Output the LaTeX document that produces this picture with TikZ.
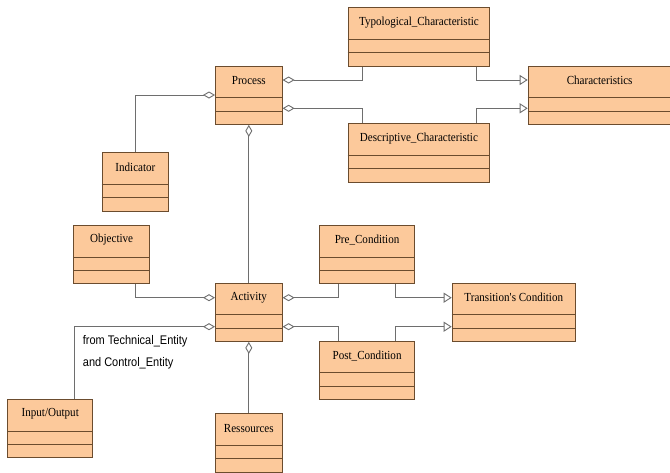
\documentclass[tikz,border=0pt]{standalone}
\usepackage{fontspec}
\setmainfont[FakeStretch=0.9]{Liberation Serif}
\newfontfamily\notefont[FakeStretch=0.88]{Liberation Sans}
\usetikzlibrary{calc,arrows.meta}
\definecolor{classfill}{HTML}{FCC99B}
\definecolor{classedge}{HTML}{6B4C2E}
\definecolor{linkgray}{HTML}{6E6E6E}
\tikzset{
	classbox/.style={draw=classedge, fill=classfill, line width=0.9pt, anchor=north west, minimum height=58.3pt, inner sep=0pt},
	classtitle/.style={font=\fontsize{12.3}{14}\selectfont, inner sep=0pt},
	aggr/.style={draw=linkgray, line width=0.9pt, {Diamond[open, length=12pt, width=7pt]}-},
	gener/.style={draw=linkgray, line width=0.9pt, -{Triangle[open, length=8pt, width=10pt]}}
}
% class box: name, top left corner, width, title
\newcommand{\umlclass}[4]{
	\node[classbox, minimum width=#3] (#1) at (#2) {};
	\node[classtitle] at ($(#1.north)+(0,15)$) {#4};
	\draw[classedge, line width=0.9pt] ($(#1.north west)+(0,32)$) -- ($(#1.north east)+(0,32)$);
	\draw[classedge, line width=0.9pt] ($(#1.north west)+(0,45.3)$) -- ($(#1.north east)+(0,45.3)$);
}

\begin{document}
\begin{tikzpicture}[x=1pt, y=-1pt]
		%%%%% START %%%%%
		\clip (0, 0) rectangle (670, 472);
		\fill[white] (0, 0) rectangle (670, 472);
		
		\umlclass{typ}{347.7, 7.3}{141.6pt}{Typological\_Characteristic}
		\umlclass{proc}{215, 65.7}{66.7pt}{Process}
		\umlclass{char}{527.7, 65.7}{143pt}{Characteristics}
		\umlclass{desc}{347.7, 123.3}{141.6pt}{Descriptive\_Characteristic}
		\umlclass{ind}{101.7, 152.3}{66.6pt}{Indicator}
		\umlclass{obj}{73.3, 225}{75.7pt}{Objective}
		\umlclass{pre}{319.3, 225}{94.7pt}{Pre\_Condition}
		\umlclass{act}{215, 282.7}{66.7pt}{Activity}
		\umlclass{trans}{451.7, 282.7}{123.3pt}{Transition\textquotesingle s Condition}
		\umlclass{post}{319.3, 340.7}{94.7pt}{Post\_Condition}
		\umlclass{io}{7.3, 399}{85pt}{Input/Output}
		\umlclass{res}{215, 413.3}{66.7pt}{Ressources}
		
		% process links
		\draw[aggr] ([yshift=-14.3pt]proc.north east) -| ([xshift=14.6pt]typ.south west);
		\draw[aggr] ([yshift=-42.6pt]proc.north east) -| ([xshift=14.6pt]desc.north west);
		\draw[aggr] ([yshift=-29.3pt]proc.north west) -| (ind.north);
		\draw[aggr] (proc.south) -- (act.north);
		\draw[gener] ([xshift=-14pt]typ.south east) |- ([yshift=-14.3pt]char.north west);
		\draw[gener] ([xshift=-14pt]desc.north east) |- ([yshift=-42.6pt]char.north west);
		
		% activity links
		\draw[aggr] ([yshift=-15pt]act.north west) -| ([xshift=-14pt]obj.south east);
		\draw[aggr] ([yshift=-44pt]act.north west) -| ([xshift=-19pt]io.north east);
		\draw[aggr] (act.south) -- (res.north);
		\draw[aggr] ([yshift=-15pt]act.north east) -| ([xshift=19pt]pre.south west);
		\draw[aggr] ([yshift=-44pt]act.north east) -| ([xshift=19pt]post.north west);
		\draw[gener] ([xshift=-19pt]pre.south east) |- ([yshift=-15pt]trans.north west);
		\draw[gener] ([xshift=-19pt]post.north east) |- ([yshift=-44pt]trans.north west);
		
		\node[anchor=north west, align=left, inner sep=0pt, font=\notefont\fontsize{12.5}{21.7}\selectfont] (iolabel) at (82.7, 335.5) {from Technical\_Entity\\and Control\_Entity};
		
		%%%%% END %%%%%
\end{tikzpicture}
\end{document}
